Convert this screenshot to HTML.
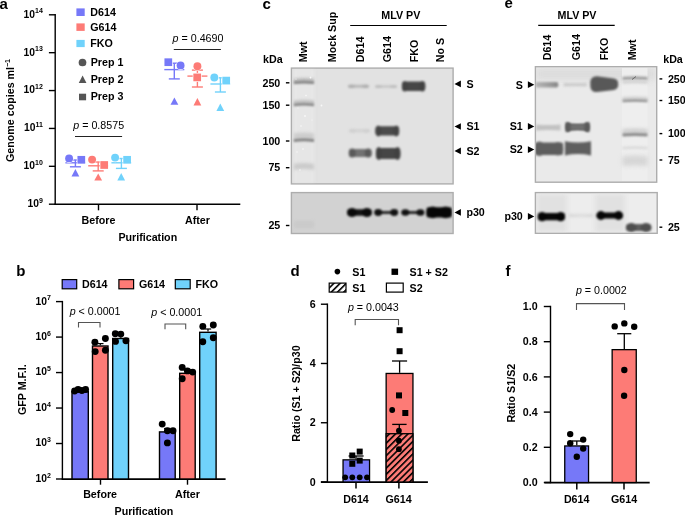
<!DOCTYPE html>
<html><head><meta charset="utf-8"><style>
html,body{margin:0;padding:0;background:#fff;width:685px;height:516px;overflow:hidden;}
svg{display:block;font-family:"Liberation Sans", sans-serif;will-change:transform;}
</style></head><body>
<svg width="685" height="516" viewBox="0 0 685 516">
<defs>
<filter id="g2" x="-30%" y="-150%" width="160%" height="400%" color-interpolation-filters="sRGB"><feGaussianBlur stdDeviation="0.2"/></filter>
<filter id="g3" x="-30%" y="-150%" width="160%" height="400%" color-interpolation-filters="sRGB"><feGaussianBlur stdDeviation="0.3"/></filter>
<filter id="g4" x="-30%" y="-150%" width="160%" height="400%" color-interpolation-filters="sRGB"><feGaussianBlur stdDeviation="0.4"/></filter>
<filter id="g5" x="-30%" y="-150%" width="160%" height="400%" color-interpolation-filters="sRGB"><feGaussianBlur stdDeviation="0.5"/></filter>
<filter id="g6" x="-30%" y="-150%" width="160%" height="400%" color-interpolation-filters="sRGB"><feGaussianBlur stdDeviation="0.6"/></filter>
<filter id="g7" x="-30%" y="-150%" width="160%" height="400%" color-interpolation-filters="sRGB"><feGaussianBlur stdDeviation="0.7"/></filter>
<filter id="g8" x="-30%" y="-150%" width="160%" height="400%" color-interpolation-filters="sRGB"><feGaussianBlur stdDeviation="0.8"/></filter>
<filter id="g9" x="-30%" y="-150%" width="160%" height="400%" color-interpolation-filters="sRGB"><feGaussianBlur stdDeviation="0.9"/></filter>
<filter id="g10" x="-30%" y="-150%" width="160%" height="400%" color-interpolation-filters="sRGB"><feGaussianBlur stdDeviation="1.0"/></filter>
<filter id="g11" x="-30%" y="-150%" width="160%" height="400%" color-interpolation-filters="sRGB"><feGaussianBlur stdDeviation="1.1"/></filter>
<filter id="g12" x="-30%" y="-150%" width="160%" height="400%" color-interpolation-filters="sRGB"><feGaussianBlur stdDeviation="1.2"/></filter>
<filter id="g13" x="-30%" y="-150%" width="160%" height="400%" color-interpolation-filters="sRGB"><feGaussianBlur stdDeviation="1.3"/></filter>
<filter id="g14" x="-30%" y="-150%" width="160%" height="400%" color-interpolation-filters="sRGB"><feGaussianBlur stdDeviation="1.4"/></filter>
<filter id="g15" x="-30%" y="-150%" width="160%" height="400%" color-interpolation-filters="sRGB"><feGaussianBlur stdDeviation="1.5"/></filter>
<filter id="g16" x="-30%" y="-150%" width="160%" height="400%" color-interpolation-filters="sRGB"><feGaussianBlur stdDeviation="1.6"/></filter>
<filter id="g17" x="-30%" y="-150%" width="160%" height="400%" color-interpolation-filters="sRGB"><feGaussianBlur stdDeviation="1.7"/></filter>
<filter id="g18" x="-30%" y="-150%" width="160%" height="400%" color-interpolation-filters="sRGB"><feGaussianBlur stdDeviation="1.8"/></filter>
<filter id="g19" x="-30%" y="-150%" width="160%" height="400%" color-interpolation-filters="sRGB"><feGaussianBlur stdDeviation="1.9"/></filter>
<filter id="g20" x="-30%" y="-150%" width="160%" height="400%" color-interpolation-filters="sRGB"><feGaussianBlur stdDeviation="2.0"/></filter>
<filter id="g21" x="-30%" y="-150%" width="160%" height="400%" color-interpolation-filters="sRGB"><feGaussianBlur stdDeviation="2.1"/></filter>
<filter id="g22" x="-30%" y="-150%" width="160%" height="400%" color-interpolation-filters="sRGB"><feGaussianBlur stdDeviation="2.2"/></filter>
<filter id="g23" x="-30%" y="-150%" width="160%" height="400%" color-interpolation-filters="sRGB"><feGaussianBlur stdDeviation="2.3"/></filter>
<filter id="g24" x="-30%" y="-150%" width="160%" height="400%" color-interpolation-filters="sRGB"><feGaussianBlur stdDeviation="2.4"/></filter>
<filter id="g25" x="-30%" y="-150%" width="160%" height="400%" color-interpolation-filters="sRGB"><feGaussianBlur stdDeviation="2.5"/></filter>
<filter id="g26" x="-30%" y="-150%" width="160%" height="400%" color-interpolation-filters="sRGB"><feGaussianBlur stdDeviation="2.6"/></filter>
<filter id="g27" x="-30%" y="-150%" width="160%" height="400%" color-interpolation-filters="sRGB"><feGaussianBlur stdDeviation="2.7"/></filter>
<filter id="g28" x="-30%" y="-150%" width="160%" height="400%" color-interpolation-filters="sRGB"><feGaussianBlur stdDeviation="2.8"/></filter>
<filter id="g29" x="-30%" y="-150%" width="160%" height="400%" color-interpolation-filters="sRGB"><feGaussianBlur stdDeviation="2.9"/></filter>
<filter id="g30" x="-30%" y="-150%" width="160%" height="400%" color-interpolation-filters="sRGB"><feGaussianBlur stdDeviation="3.0"/></filter>
<filter id="g31" x="-30%" y="-150%" width="160%" height="400%" color-interpolation-filters="sRGB"><feGaussianBlur stdDeviation="3.1"/></filter>
<filter id="g32" x="-30%" y="-150%" width="160%" height="400%" color-interpolation-filters="sRGB"><feGaussianBlur stdDeviation="3.2"/></filter>
<filter id="g33" x="-30%" y="-150%" width="160%" height="400%" color-interpolation-filters="sRGB"><feGaussianBlur stdDeviation="3.3"/></filter>
<filter id="g34" x="-30%" y="-150%" width="160%" height="400%" color-interpolation-filters="sRGB"><feGaussianBlur stdDeviation="3.4"/></filter>
<filter id="g35" x="-30%" y="-150%" width="160%" height="400%" color-interpolation-filters="sRGB"><feGaussianBlur stdDeviation="3.5"/></filter>
<filter id="g36" x="-30%" y="-150%" width="160%" height="400%" color-interpolation-filters="sRGB"><feGaussianBlur stdDeviation="3.6"/></filter>
<filter id="g37" x="-30%" y="-150%" width="160%" height="400%" color-interpolation-filters="sRGB"><feGaussianBlur stdDeviation="3.7"/></filter>
<filter id="g38" x="-30%" y="-150%" width="160%" height="400%" color-interpolation-filters="sRGB"><feGaussianBlur stdDeviation="3.8"/></filter>
<filter id="g39" x="-30%" y="-150%" width="160%" height="400%" color-interpolation-filters="sRGB"><feGaussianBlur stdDeviation="3.9"/></filter>
<filter id="g40" x="-30%" y="-150%" width="160%" height="400%" color-interpolation-filters="sRGB"><feGaussianBlur stdDeviation="4.0"/></filter>
<linearGradient id="gradS" x1="0" x2="1" y1="0" y2="0"><stop offset="0" stop-color="#b8b8b8"/><stop offset="0.6" stop-color="#9c9c9c"/><stop offset="1" stop-color="#858585"/></linearGradient>
<clipPath id="clipc1"><rect x="292.1" y="68.8" width="160.2" height="114.4"/></clipPath>
<clipPath id="clipc2"><rect x="292.1" y="193.3" width="160.2" height="39.5"/></clipPath>
<clipPath id="clipe1"><rect x="536.1" y="67.4" width="119.9" height="114.1"/></clipPath>
<clipPath id="clipe2"><rect x="536.1" y="193.3" width="120.4" height="39.3"/></clipPath>
<pattern id="hatchr" patternUnits="userSpaceOnUse" width="4.4" height="4.4" patternTransform="rotate(45) translate(0.48,0)">
<rect width="4.4" height="4.4" fill="#fd7b76"/><rect x="0" y="0" width="1.6" height="4.4" fill="#000"/></pattern>
<pattern id="hatchw" patternUnits="userSpaceOnUse" width="4.4" height="4.4" patternTransform="rotate(45)">
<rect width="4.4" height="4.4" fill="#fff"/><rect x="0" y="0" width="1.6" height="4.4" fill="#000"/></pattern>
</defs>
<text x="-0.5" y="8.8" font-size="15" font-weight="bold" text-anchor="start" >a</text>
<line x1="55.2" y1="14.099999999999984" x2="55.2" y2="204.9" stroke="#000" stroke-width="1.4"/>
<line x1="54.5" y1="204.2" x2="240.3" y2="204.2" stroke="#000" stroke-width="1.4"/>
<line x1="48.9" y1="204.2" x2="55.2" y2="204.2" stroke="#000" stroke-width="1.4"/>
<text x="42.8" y="207.10" font-size="10.3" font-weight="bold" text-anchor="end">10<tspan font-size="7" dy="-4.3">9</tspan></text>
<line x1="48.9" y1="166.32" x2="55.2" y2="166.32" stroke="#000" stroke-width="1.4"/>
<text x="42.8" y="169.22" font-size="10.3" font-weight="bold" text-anchor="end">10<tspan font-size="7" dy="-4.3">10</tspan></text>
<line x1="48.9" y1="128.44" x2="55.2" y2="128.44" stroke="#000" stroke-width="1.4"/>
<text x="42.8" y="131.34" font-size="10.3" font-weight="bold" text-anchor="end">10<tspan font-size="7" dy="-4.3">11</tspan></text>
<line x1="48.9" y1="90.55999999999997" x2="55.2" y2="90.55999999999997" stroke="#000" stroke-width="1.4"/>
<text x="42.8" y="93.46" font-size="10.3" font-weight="bold" text-anchor="end">10<tspan font-size="7" dy="-4.3">12</tspan></text>
<line x1="48.9" y1="52.67999999999998" x2="55.2" y2="52.67999999999998" stroke="#000" stroke-width="1.4"/>
<text x="42.8" y="55.58" font-size="10.3" font-weight="bold" text-anchor="end">10<tspan font-size="7" dy="-4.3">13</tspan></text>
<line x1="48.9" y1="14.799999999999983" x2="55.2" y2="14.799999999999983" stroke="#000" stroke-width="1.4"/>
<text x="42.8" y="17.70" font-size="10.3" font-weight="bold" text-anchor="end">10<tspan font-size="7" dy="-4.3">14</tspan></text>
<rect x="76.40" y="8.40" width="8.30" height="7.60" fill="#7678f8"/>
<rect x="76.40" y="23.40" width="8.30" height="7.50" fill="#fd7b76"/>
<rect x="76.40" y="39.90" width="8.30" height="7.20" fill="#70d2fb"/>
<text x="90.3" y="15.8" font-size="10.7" font-weight="bold" text-anchor="start" >D614</text>
<text x="90.3" y="30.7" font-size="10.7" font-weight="bold" text-anchor="start" >G614</text>
<text x="90.3" y="46.7" font-size="10.7" font-weight="bold" text-anchor="start" >FKO</text>
<circle cx="82.5" cy="62.5" r="3.85" fill="#555555"/>
<polygon points="78.75,82.9 86.45,82.9 82.6,75.5" fill="#555555"/>
<rect x="79.00" y="93.70" width="7.10" height="6.60" fill="#555555"/>
<text x="90.7" y="65.8" font-size="10.7" font-weight="bold" text-anchor="start" >Prep 1</text>
<text x="90.7" y="82.9" font-size="10.7" font-weight="bold" text-anchor="start" >Prep 2</text>
<text x="90.7" y="100.0" font-size="10.7" font-weight="bold" text-anchor="start" >Prep 3</text>
<text x="73.3" y="128.6" font-size="10.7"><tspan font-style="italic">p</tspan> = 0.8575</text>
<line x1="75" y1="136.5" x2="122.1" y2="136.5" stroke="#222" stroke-width="1.0"/>
<text x="172.6" y="41.7" font-size="10.7"><tspan font-style="italic">p</tspan> = 0.4690</text>
<line x1="173.8" y1="49.5" x2="220.9" y2="49.5" stroke="#222" stroke-width="1.0"/>
<line x1="75.4" y1="160.0" x2="75.4" y2="166.8" stroke="#7678f8" stroke-width="1.4"/>
<line x1="65.4" y1="162.8" x2="85.4" y2="162.8" stroke="#7678f8" stroke-width="1.4"/>
<line x1="69.9" y1="166.8" x2="80.9" y2="166.8" stroke="#7678f8" stroke-width="1.4"/>
<line x1="69.9" y1="160.0" x2="80.9" y2="160.0" stroke="#7678f8" stroke-width="1.4"/>
<circle cx="69.1" cy="158.4" r="3.95" fill="#7678f8" stroke="#fff" stroke-width="1.3" paint-order="stroke"/>
<rect x="77.45" y="155.95" width="7.7" height="7.7" fill="#7678f8" stroke="#fff" stroke-width="1.3" paint-order="stroke"/>
<polygon points="71.50,176.5 79.30,176.5 75.4,169.0" fill="#7678f8" stroke="#fff" stroke-width="1.3" paint-order="stroke"/>
<line x1="98.2" y1="162.0" x2="98.2" y2="170.9" stroke="#fd7b76" stroke-width="1.4"/>
<line x1="88.2" y1="165.8" x2="108.2" y2="165.8" stroke="#fd7b76" stroke-width="1.4"/>
<line x1="92.7" y1="170.9" x2="103.7" y2="170.9" stroke="#fd7b76" stroke-width="1.4"/>
<line x1="92.7" y1="162.0" x2="103.7" y2="162.0" stroke="#fd7b76" stroke-width="1.4"/>
<circle cx="92.1" cy="159.6" r="3.95" fill="#fd7b76" stroke="#fff" stroke-width="1.3" paint-order="stroke"/>
<rect x="100.35" y="161.15" width="7.7" height="7.7" fill="#fd7b76" stroke="#fff" stroke-width="1.3" paint-order="stroke"/>
<polygon points="94.30,180.6 102.10,180.6 98.2,173.6" fill="#fd7b76" stroke="#fff" stroke-width="1.3" paint-order="stroke"/>
<line x1="121.4" y1="158.5" x2="121.4" y2="168.4" stroke="#70d2fb" stroke-width="1.4"/>
<line x1="111.4" y1="162.8" x2="131.4" y2="162.8" stroke="#70d2fb" stroke-width="1.4"/>
<line x1="115.9" y1="168.4" x2="126.9" y2="168.4" stroke="#70d2fb" stroke-width="1.4"/>
<line x1="115.9" y1="158.5" x2="126.9" y2="158.5" stroke="#70d2fb" stroke-width="1.4"/>
<circle cx="115.1" cy="157.6" r="3.95" fill="#70d2fb" stroke="#fff" stroke-width="1.3" paint-order="stroke"/>
<rect x="123.25" y="155.95" width="7.7" height="7.7" fill="#70d2fb" stroke="#fff" stroke-width="1.3" paint-order="stroke"/>
<polygon points="117.30,180.6 125.10,180.6 121.2,173.0" fill="#70d2fb" stroke="#fff" stroke-width="1.3" paint-order="stroke"/>
<line x1="174.3" y1="63.2" x2="174.3" y2="78.9" stroke="#7678f8" stroke-width="1.4"/>
<line x1="164.3" y1="69.6" x2="184.3" y2="69.6" stroke="#7678f8" stroke-width="1.4"/>
<line x1="168.8" y1="78.9" x2="179.8" y2="78.9" stroke="#7678f8" stroke-width="1.4"/>
<line x1="168.8" y1="63.2" x2="179.8" y2="63.2" stroke="#7678f8" stroke-width="1.4"/>
<circle cx="180.6" cy="65.4" r="3.95" fill="#7678f8" stroke="#fff" stroke-width="1.3" paint-order="stroke"/>
<rect x="164.45" y="58.35" width="7.7" height="7.7" fill="#7678f8" stroke="#fff" stroke-width="1.3" paint-order="stroke"/>
<polygon points="170.50,104.8 178.30,104.8 174.4,97.4" fill="#7678f8" stroke="#fff" stroke-width="1.3" paint-order="stroke"/>
<line x1="197.4" y1="70.1" x2="197.4" y2="87.0" stroke="#fd7b76" stroke-width="1.4"/>
<line x1="187.4" y1="76.1" x2="207.4" y2="76.1" stroke="#fd7b76" stroke-width="1.4"/>
<line x1="191.9" y1="87.0" x2="202.9" y2="87.0" stroke="#fd7b76" stroke-width="1.4"/>
<line x1="191.9" y1="70.1" x2="202.9" y2="70.1" stroke="#fd7b76" stroke-width="1.4"/>
<circle cx="197.4" cy="66.2" r="3.95" fill="#fd7b76" stroke="#fff" stroke-width="1.3" paint-order="stroke"/>
<rect x="193.35" y="73.55" width="7.7" height="7.7" fill="#fd7b76" stroke="#fff" stroke-width="1.3" paint-order="stroke"/>
<polygon points="193.50,105.4 201.30,105.4 197.4,98.0" fill="#fd7b76" stroke="#fff" stroke-width="1.3" paint-order="stroke"/>
<line x1="220.4" y1="77.8" x2="220.4" y2="92.0" stroke="#70d2fb" stroke-width="1.4"/>
<line x1="210.4" y1="84.0" x2="230.4" y2="84.0" stroke="#70d2fb" stroke-width="1.4"/>
<line x1="214.9" y1="92.0" x2="225.9" y2="92.0" stroke="#70d2fb" stroke-width="1.4"/>
<line x1="214.9" y1="77.8" x2="225.9" y2="77.8" stroke="#70d2fb" stroke-width="1.4"/>
<circle cx="214.3" cy="77.5" r="3.95" fill="#70d2fb" stroke="#fff" stroke-width="1.3" paint-order="stroke"/>
<rect x="222.35" y="76.75" width="7.7" height="7.7" fill="#70d2fb" stroke="#fff" stroke-width="1.3" paint-order="stroke"/>
<polygon points="216.40,111.0 224.20,111.0 220.3,103.6" fill="#70d2fb" stroke="#fff" stroke-width="1.3" paint-order="stroke"/>
<line x1="98.5" y1="204.2" x2="98.5" y2="210.3" stroke="#000" stroke-width="1.4"/>
<line x1="197.0" y1="204.2" x2="197.0" y2="210.3" stroke="#000" stroke-width="1.4"/>
<text x="98.5" y="224.1" font-size="10.7" font-weight="bold" text-anchor="middle" >Before</text>
<text x="197.4" y="224.1" font-size="10.7" font-weight="bold" text-anchor="middle" >After</text>
<text x="147.8" y="240.8" font-size="10.7" font-weight="bold" text-anchor="middle" >Purification</text>
<text x="0" y="0" font-size="10.7" font-weight="bold" transform="translate(14.2,162.0) rotate(-90)">Genome copies ml<tspan font-size="7" dy="-4.3">−1</tspan></text>
<text x="16.2" y="275.9" font-size="15" font-weight="bold" text-anchor="start" >b</text>
<rect x="62.20" y="279.60" width="14.50" height="9.20" fill="#7678f8" stroke="#000" stroke-width="1.2"/>
<text x="82.0" y="287.7" font-size="10.7" font-weight="bold" text-anchor="start" >D614</text>
<rect x="118.90" y="279.60" width="14.70" height="9.20" fill="#fd7b76" stroke="#000" stroke-width="1.2"/>
<text x="138.9" y="287.7" font-size="10.7" font-weight="bold" text-anchor="start" >G614</text>
<rect x="175.30" y="279.60" width="14.90" height="9.20" fill="#70d2fb" stroke="#000" stroke-width="1.2"/>
<text x="195.5" y="287.7" font-size="10.7" font-weight="bold" text-anchor="start" >FKO</text>
<line x1="62.4" y1="300.90000000000003" x2="62.4" y2="479.7" stroke="#000" stroke-width="1.4"/>
<line x1="61.699999999999996" y1="479.1" x2="225.6" y2="479.1" stroke="#000" stroke-width="1.6"/>
<line x1="56.0" y1="479.0" x2="62.4" y2="479.0" stroke="#000" stroke-width="1.4"/>
<text x="50.8" y="481.90" font-size="10.3" font-weight="bold" text-anchor="end">10<tspan font-size="7" dy="-4.3">2</tspan></text>
<line x1="56.0" y1="443.52" x2="62.4" y2="443.52" stroke="#000" stroke-width="1.4"/>
<text x="50.8" y="446.42" font-size="10.3" font-weight="bold" text-anchor="end">10<tspan font-size="7" dy="-4.3">3</tspan></text>
<line x1="56.0" y1="408.04" x2="62.4" y2="408.04" stroke="#000" stroke-width="1.4"/>
<text x="50.8" y="410.94" font-size="10.3" font-weight="bold" text-anchor="end">10<tspan font-size="7" dy="-4.3">4</tspan></text>
<line x1="56.0" y1="372.56" x2="62.4" y2="372.56" stroke="#000" stroke-width="1.4"/>
<text x="50.8" y="375.46" font-size="10.3" font-weight="bold" text-anchor="end">10<tspan font-size="7" dy="-4.3">5</tspan></text>
<line x1="56.0" y1="337.08000000000004" x2="62.4" y2="337.08000000000004" stroke="#000" stroke-width="1.4"/>
<text x="50.8" y="339.98" font-size="10.3" font-weight="bold" text-anchor="end">10<tspan font-size="7" dy="-4.3">6</tspan></text>
<line x1="56.0" y1="301.6" x2="62.4" y2="301.6" stroke="#000" stroke-width="1.4"/>
<text x="50.8" y="304.50" font-size="10.3" font-weight="bold" text-anchor="end">10<tspan font-size="7" dy="-4.3">7</tspan></text>
<rect x="72.00" y="391.70" width="16.30" height="87.30" fill="#7678f8" stroke="#000" stroke-width="1.4"/>
<rect x="92.50" y="346.00" width="15.50" height="133.00" fill="#fd7b76" stroke="#000" stroke-width="1.4"/>
<rect x="112.70" y="338.50" width="15.80" height="140.50" fill="#70d2fb" stroke="#000" stroke-width="1.4"/>
<rect x="159.50" y="431.90" width="15.70" height="47.10" fill="#7678f8" stroke="#000" stroke-width="1.4"/>
<rect x="179.70" y="373.30" width="15.50" height="105.70" fill="#fd7b76" stroke="#000" stroke-width="1.4"/>
<rect x="199.70" y="332.30" width="16.40" height="146.70" fill="#70d2fb" stroke="#000" stroke-width="1.4"/>
<line x1="80.1" y1="388.5" x2="80.1" y2="391.0" stroke="#000" stroke-width="1.2"/>
<line x1="76.89999999999999" y1="388.5" x2="83.3" y2="388.5" stroke="#000" stroke-width="1.2"/>
<line x1="100.3" y1="343.6" x2="100.3" y2="345.3" stroke="#000" stroke-width="1.2"/>
<line x1="97.1" y1="343.6" x2="103.5" y2="343.6" stroke="#000" stroke-width="1.2"/>
<line x1="120.8" y1="335.2" x2="120.8" y2="337.8" stroke="#000" stroke-width="1.2"/>
<line x1="117.6" y1="335.2" x2="124.0" y2="335.2" stroke="#000" stroke-width="1.2"/>
<line x1="167.3" y1="428.5" x2="167.3" y2="431.2" stroke="#000" stroke-width="1.2"/>
<line x1="164.10000000000002" y1="428.5" x2="170.5" y2="428.5" stroke="#000" stroke-width="1.2"/>
<line x1="187.5" y1="369.5" x2="187.5" y2="372.6" stroke="#000" stroke-width="1.2"/>
<line x1="184.3" y1="369.5" x2="190.7" y2="369.5" stroke="#000" stroke-width="1.2"/>
<line x1="208.0" y1="329.0" x2="208.0" y2="331.6" stroke="#000" stroke-width="1.2"/>
<line x1="204.8" y1="329.0" x2="211.2" y2="329.0" stroke="#000" stroke-width="1.2"/>
<circle cx="74.6" cy="391" r="3.45" fill="#000"/>
<circle cx="78.1" cy="389.5" r="3.45" fill="#000"/>
<circle cx="81.9" cy="390.5" r="3.45" fill="#000"/>
<circle cx="85.6" cy="389.5" r="3.45" fill="#000"/>
<circle cx="94.9" cy="342.2" r="3.45" fill="#000"/>
<circle cx="105.4" cy="338.5" r="3.45" fill="#000"/>
<circle cx="95.2" cy="351.6" r="3.45" fill="#000"/>
<circle cx="105.4" cy="350.2" r="3.45" fill="#000"/>
<circle cx="115.3" cy="333.8" r="3.45" fill="#000"/>
<circle cx="120.8" cy="334.1" r="3.45" fill="#000"/>
<circle cx="115.5" cy="341.4" r="3.45" fill="#000"/>
<circle cx="125.9" cy="340.7" r="3.45" fill="#000"/>
<circle cx="162.2" cy="424.1" r="3.45" fill="#000"/>
<circle cx="167.4" cy="430.8" r="3.45" fill="#000"/>
<circle cx="173" cy="430.8" r="3.45" fill="#000"/>
<circle cx="167.4" cy="442.9" r="3.45" fill="#000"/>
<circle cx="182.2" cy="367.4" r="3.45" fill="#000"/>
<circle cx="187.4" cy="370.9" r="3.45" fill="#000"/>
<circle cx="192.7" cy="372.1" r="3.45" fill="#000"/>
<circle cx="182.2" cy="378.7" r="3.45" fill="#000"/>
<circle cx="202.8" cy="326.4" r="3.45" fill="#000"/>
<circle cx="213.3" cy="325" r="3.45" fill="#000"/>
<circle cx="202.8" cy="341.7" r="3.45" fill="#000"/>
<circle cx="213.3" cy="337.7" r="3.45" fill="#000"/>
<line x1="100.5" y1="479.0" x2="100.5" y2="484.7" stroke="#000" stroke-width="1.4"/>
<line x1="187.5" y1="479.0" x2="187.5" y2="484.7" stroke="#000" stroke-width="1.4"/>
<text x="100.1" y="497.7" font-size="10.7" font-weight="bold" text-anchor="middle" >Before</text>
<text x="187.5" y="497.7" font-size="10.7" font-weight="bold" text-anchor="middle" >After</text>
<text x="143.9" y="515.3" font-size="10.7" font-weight="bold" text-anchor="middle" >Purification</text>
<text x="69.7" y="314.9" font-size="10.7"><tspan font-style="italic">p</tspan> &lt; 0.0001</text>
<text x="151.3" y="315.9" font-size="10.7"><tspan font-style="italic">p</tspan> &lt; 0.0001</text>
<path d="M78.5,327.5 V322.5 H100.0 V327.5" fill="none" stroke="#555" stroke-width="1.1"/>
<path d="M165.0,329.3 V324.0 H185.7 V329.3" fill="none" stroke="#555" stroke-width="1.1"/>
<text x="0" y="0" font-size="10.7" font-weight="bold" transform="translate(26.0,415.1) rotate(-90)">GFP M.F.I.</text>
<text x="262.6" y="8.8" font-size="15" font-weight="bold" text-anchor="start" >c</text>
<text x="263.1" y="62.7" font-size="10.7" font-weight="bold" text-anchor="start" >kDa</text>
<text x="0" y="0" font-size="10.7" font-weight="bold" transform="translate(307.2,62.2) rotate(-90)">Mwt</text>
<text x="0" y="0" font-size="10.7" font-weight="bold" transform="translate(335.9,62.2) rotate(-90)">Mock Sup</text>
<text x="0" y="0" font-size="10.7" font-weight="bold" transform="translate(364.0,62.2) rotate(-90)">D614</text>
<text x="0" y="0" font-size="10.7" font-weight="bold" transform="translate(390.8,62.2) rotate(-90)">G614</text>
<text x="0" y="0" font-size="10.7" font-weight="bold" transform="translate(418.0,62.2) rotate(-90)">FKO</text>
<text x="0" y="0" font-size="10.7" font-weight="bold" transform="translate(443.9,62.2) rotate(-90)">No S</text>
<text x="400.8" y="19.0" font-size="10.7" font-weight="bold" text-anchor="middle" >MLV PV</text>
<line x1="350.2" y1="25.5" x2="446.7" y2="25.5" stroke="#000" stroke-width="1.2"/>
<rect x="291.4" y="68.1" width="161.7" height="115.8" fill="#e2e2e2" stroke="#adadad" stroke-width="1.4"/>
<rect x="291.4" y="192.6" width="161.7" height="40.9" fill="#d2d2d2" stroke="#adadad" stroke-width="1.4"/>
<g clip-path="url(#clipc1)">
<rect x="293.5" y="69" width="21" height="114" fill="#e6e6e6" filter="url(#g15)"/>
<path d="M293.8,78.30 Q303.90,76.90 314.0,78.30 L314.0,82.30 Q303.90,80.90 293.8,82.30 Z" fill="#c6c6c6" opacity="1.0" filter="url(#g13)"/>
<path d="M293.8,81.30 Q303.90,79.90 314.0,81.30 L314.0,84.10 Q303.90,82.70 293.8,84.10 Z" fill="#858585" opacity="1.0" filter="url(#g8)"/>
<path d="M293.8,100.30 Q303.90,98.90 314.0,100.30 L314.0,104.30 Q303.90,102.90 293.8,104.30 Z" fill="#c8c8c8" opacity="1.0" filter="url(#g13)"/>
<path d="M293.8,103.50 Q303.90,102.10 314.0,103.50 L314.0,106.30 Q303.90,104.90 293.8,106.30 Z" fill="#888888" opacity="1.0" filter="url(#g8)"/>
<path d="M293.8,133.20 Q303.90,131.80 314.0,133.20 L314.0,139.20 Q303.90,137.80 293.8,139.20 Z" fill="#cdcdcd" opacity="1.0" filter="url(#g16)"/>
<path d="M293.8,139.00 Q303.90,137.60 314.0,139.00 L314.0,142.00 Q303.90,140.60 293.8,142.00 Z" fill="#848484" opacity="1.0" filter="url(#g8)"/>
<path d="M293.8,163.70 Q303.90,162.30 314.0,163.70 L314.0,169.70 Q303.90,168.30 293.8,169.70 Z" fill="#cbcbcb" opacity="1.0" filter="url(#g16)"/>
<circle cx="310.5" cy="77.5" r="0.9" fill="#f8f8f8" filter="url(#g4)"/>
<circle cx="306" cy="95.5" r="0.8" fill="#f8f8f8" filter="url(#g4)"/>
<circle cx="305" cy="116" r="0.9" fill="#f8f8f8" filter="url(#g4)"/>
<circle cx="301" cy="126" r="0.8" fill="#f8f8f8" filter="url(#g4)"/>
<circle cx="303" cy="149" r="0.8" fill="#f8f8f8" filter="url(#g4)"/>
<circle cx="297" cy="152" r="0.7" fill="#f8f8f8" filter="url(#g4)"/>
<circle cx="300" cy="170" r="0.7" fill="#f8f8f8" filter="url(#g4)"/>
<circle cx="321.5" cy="105.5" r="0.9" fill="#f8f8f8" filter="url(#g4)"/>
<circle cx="296" cy="79" r="0.6" fill="#f8f8f8" filter="url(#g4)"/>
<circle cx="312" cy="120" r="0.6" fill="#f8f8f8" filter="url(#g4)"/>
<circle cx="298" cy="108" r="0.6" fill="#f8f8f8" filter="url(#g4)"/>
<g filter="url(#g9)">
<rect x="348.30" y="84.80" width="20.40" height="3.0" rx="1.5" fill="#bababa"/>
<ellipse cx="351.50" cy="86.3" rx="3.50" ry="1.90" fill="#b0b0b0"/>
<ellipse cx="365.50" cy="86.3" rx="3.50" ry="1.90" fill="#b0b0b0"/>
</g>
<g filter="url(#g12)">
<rect x="349.30" y="129.05" width="20.40" height="3.5" rx="1.75" fill="#d4d4d4"/>
<ellipse cx="352.50" cy="130.8" rx="3.50" ry="2.00" fill="#d0d0d0"/>
<ellipse cx="366.50" cy="130.8" rx="3.50" ry="2.00" fill="#d0d0d0"/>
</g>
<g filter="url(#g10)">
<rect x="349.00" y="149.10" width="22.40" height="7.8" rx="2.0" fill="#727272"/>
<ellipse cx="352.20" cy="153.0" rx="3.50" ry="4.60" fill="#5a5a5a"/>
<ellipse cx="368.20" cy="153.0" rx="3.50" ry="4.60" fill="#5a5a5a"/>
</g>
<g filter="url(#g9)">
<rect x="375.30" y="85.20" width="21.40" height="2.6" rx="1.3" fill="#c6c6c6"/>
<ellipse cx="378.50" cy="86.5" rx="3.50" ry="1.60" fill="#bebebe"/>
<ellipse cx="393.50" cy="86.5" rx="3.50" ry="1.60" fill="#bebebe"/>
</g>
<g filter="url(#g9)">
<rect x="375.60" y="126.30" width="23.40" height="9.2" rx="2.0" fill="#4b4b4b"/>
<ellipse cx="378.30" cy="130.9" rx="3.00" ry="5.50" fill="#454545"/>
<ellipse cx="396.30" cy="130.9" rx="3.00" ry="5.50" fill="#454545"/>
</g>
<g filter="url(#g9)">
<rect x="376.10" y="148.10" width="24.10" height="10.8" rx="2.0" fill="#454545"/>
<ellipse cx="378.80" cy="153.5" rx="3.00" ry="6.40" fill="#404040"/>
<ellipse cx="397.50" cy="153.5" rx="3.00" ry="6.40" fill="#404040"/>
</g>
<g filter="url(#g9)">
<rect x="402.10" y="81.50" width="23.00" height="9.4" rx="2.0" fill="#464646"/>
<ellipse cx="404.80" cy="86.2" rx="3.00" ry="5.20" fill="#424242"/>
<ellipse cx="422.40" cy="86.2" rx="3.00" ry="5.20" fill="#424242"/>
</g>
</g>
<g clip-path="url(#clipc2)">
<g filter="url(#g8)">
<rect x="347.30" y="209.30" width="24.30" height="6.4" rx="2.0" fill="#141414"/>
<ellipse cx="352.00" cy="212.5" rx="5.00" ry="4.60" fill="#0a0a0a"/>
<ellipse cx="366.90" cy="212.5" rx="5.00" ry="4.60" fill="#0a0a0a"/>
</g>
<g filter="url(#g8)">
<rect x="374.50" y="211.10" width="23.40" height="2.8" rx="1.4" fill="#2a2a2a"/>
<ellipse cx="378.20" cy="212.5" rx="4.00" ry="3.40" fill="#101010"/>
<ellipse cx="394.20" cy="212.5" rx="4.00" ry="3.40" fill="#101010"/>
</g>
<g filter="url(#g8)">
<rect x="401.60" y="211.10" width="22.50" height="2.8" rx="1.4" fill="#2a2a2a"/>
<ellipse cx="405.30" cy="212.5" rx="4.00" ry="3.30" fill="#101010"/>
<ellipse cx="420.40" cy="212.5" rx="4.00" ry="3.30" fill="#101010"/>
</g>
<g filter="url(#g8)">
<rect x="426.50" y="207.30" width="25.30" height="10.2" rx="2.0" fill="#0a0a0a"/>
<ellipse cx="432.70" cy="212.4" rx="6.50" ry="5.90" fill="#060606"/>
<ellipse cx="445.60" cy="212.4" rx="6.50" ry="5.90" fill="#060606"/>
</g>
<rect x="294" y="221" width="20" height="7" fill="#cacaca" filter="url(#g15)"/>
</g>
<line x1="285.9" y1="82.8" x2="289.4" y2="82.8" stroke="#000" stroke-width="1.4"/>
<text x="280.3" y="86.5" font-size="10.7" font-weight="bold" text-anchor="end" >250</text>
<line x1="285.9" y1="105.2" x2="289.4" y2="105.2" stroke="#000" stroke-width="1.4"/>
<text x="280.3" y="108.9" font-size="10.7" font-weight="bold" text-anchor="end" >150</text>
<line x1="285.9" y1="141.0" x2="289.4" y2="141.0" stroke="#000" stroke-width="1.4"/>
<text x="280.3" y="144.7" font-size="10.7" font-weight="bold" text-anchor="end" >100</text>
<line x1="285.9" y1="167.7" x2="289.4" y2="167.7" stroke="#000" stroke-width="1.4"/>
<text x="280.3" y="171.39999999999998" font-size="10.7" font-weight="bold" text-anchor="end" >75</text>
<line x1="285.9" y1="225.5" x2="289.4" y2="225.5" stroke="#000" stroke-width="1.4"/>
<text x="280.3" y="229.2" font-size="10.7" font-weight="bold" text-anchor="end" >25</text>
<polygon points="454.5,83.9 460.9,80.60000000000001 460.9,87.2" fill="#000"/>
<text x="466.4" y="87.7" font-size="10.7" font-weight="bold" text-anchor="start" >S</text>
<polygon points="454.5,126.5 460.9,123.2 460.9,129.8" fill="#000"/>
<text x="466.4" y="130.3" font-size="10.7" font-weight="bold" text-anchor="start" >S1</text>
<polygon points="454.5,150.9 460.9,147.6 460.9,154.20000000000002" fill="#000"/>
<text x="466.4" y="154.70000000000002" font-size="10.7" font-weight="bold" text-anchor="start" >S2</text>
<polygon points="454.5,212.4 460.9,209.1 460.9,215.70000000000002" fill="#000"/>
<text x="466.4" y="216.20000000000002" font-size="10.7" font-weight="bold" text-anchor="start" >p30</text>
<text x="290.5" y="276.0" font-size="15" font-weight="bold" text-anchor="start" >d</text>
<circle cx="337.4" cy="271.6" r="2.8" fill="#000"/>
<text x="352.3" y="275.7" font-size="10.7" font-weight="bold" text-anchor="start" >S1</text>
<rect x="391.50" y="268.60" width="6.60" height="6.30" fill="#000"/>
<text x="409.5" y="275.7" font-size="10.7" font-weight="bold" text-anchor="start" >S1 + S2</text>
<rect x="329.2" y="283.1" width="16.8" height="9.0" fill="url(#hatchw)" stroke="#000" stroke-width="1.2"/>
<text x="352.3" y="291.7" font-size="10.7" font-weight="bold" text-anchor="start" >S1</text>
<rect x="386.4" y="283.1" width="16.8" height="9.0" fill="#fff" stroke="#000" stroke-width="1.2"/>
<text x="409.5" y="291.7" font-size="10.7" font-weight="bold" text-anchor="start" >S2</text>
<line x1="327.4" y1="303.52000000000004" x2="327.4" y2="482.7" stroke="#000" stroke-width="1.4"/>
<line x1="320.9" y1="482.1" x2="427.9" y2="482.1" stroke="#000" stroke-width="1.8"/>
<line x1="320.9" y1="482.0" x2="327.4" y2="482.0" stroke="#000" stroke-width="1.4"/>
<text x="315.8" y="485.7" font-size="10.7" font-weight="bold" text-anchor="end" >0</text>
<line x1="320.9" y1="422.74" x2="327.4" y2="422.74" stroke="#000" stroke-width="1.4"/>
<text x="315.8" y="426.44" font-size="10.7" font-weight="bold" text-anchor="end" >2</text>
<line x1="320.9" y1="363.48" x2="327.4" y2="363.48" stroke="#000" stroke-width="1.4"/>
<text x="315.8" y="367.18" font-size="10.7" font-weight="bold" text-anchor="end" >4</text>
<line x1="320.9" y1="304.22" x2="327.4" y2="304.22" stroke="#000" stroke-width="1.4"/>
<text x="315.8" y="307.92" font-size="10.7" font-weight="bold" text-anchor="end" >6</text>
<rect x="343.05" y="459.85" width="26.50" height="22.15" fill="#7678f8" stroke="#000" stroke-width="1.3"/>
<rect x="386.15" y="373.45" width="26.80" height="108.55" fill="#fd7b76" stroke="#000" stroke-width="1.3"/>
<rect x="386.15" y="433.7" width="26.8" height="48.3" fill="url(#hatchr)" stroke="#000" stroke-width="1.3"/>
<line x1="399.6" y1="361.0" x2="399.6" y2="372.8" stroke="#000" stroke-width="1.3"/>
<line x1="392.0" y1="361.0" x2="407.1" y2="361.0" stroke="#000" stroke-width="1.3"/>
<line x1="399.3" y1="424.4" x2="399.3" y2="433.7" stroke="#000" stroke-width="1.3"/>
<line x1="392.2" y1="424.4" x2="406.6" y2="424.4" stroke="#000" stroke-width="1.3"/>
<line x1="356.0" y1="456.0" x2="356.0" y2="459.2" stroke="#000" stroke-width="1.3"/>
<line x1="348.6" y1="456.0" x2="363.6" y2="456.0" stroke="#000" stroke-width="1.3"/>
<rect x="396.60" y="327.20" width="6.0" height="6.0" fill="#000"/>
<rect x="396.60" y="348.20" width="6.0" height="6.0" fill="#000"/>
<rect x="396.00" y="392.40" width="6.0" height="6.0" fill="#000"/>
<rect x="402.30" y="410.00" width="6.0" height="6.0" fill="#000"/>
<rect x="349.30" y="452.50" width="6.0" height="6.0" fill="#000"/>
<rect x="356.70" y="448.60" width="6.0" height="6.0" fill="#000"/>
<rect x="349.30" y="460.80" width="6.0" height="6.0" fill="#000"/>
<rect x="356.70" y="457.60" width="6.0" height="6.0" fill="#000"/>
<circle cx="392.2" cy="410.0" r="2.9" fill="#000"/>
<circle cx="398.9" cy="430.7" r="2.9" fill="#000"/>
<circle cx="398.9" cy="440.7" r="2.9" fill="#000"/>
<circle cx="398.9" cy="449.2" r="2.9" fill="#000"/>
<circle cx="345.2" cy="477.3" r="2.9" fill="#000"/>
<circle cx="352.3" cy="477.3" r="2.9" fill="#000"/>
<circle cx="359.7" cy="477.3" r="2.9" fill="#000"/>
<circle cx="367.0" cy="477.3" r="2.9" fill="#000"/>
<line x1="356.0" y1="482.0" x2="356.0" y2="488.5" stroke="#000" stroke-width="1.5"/>
<line x1="398.9" y1="482.0" x2="398.9" y2="488.5" stroke="#000" stroke-width="1.5"/>
<text x="356.0" y="503.4" font-size="10.7" font-weight="bold" text-anchor="middle" >D614</text>
<text x="398.6" y="503.4" font-size="10.7" font-weight="bold" text-anchor="middle" >G614</text>
<text x="347.9" y="310.7" font-size="10.7"><tspan font-style="italic">p</tspan> = 0.0043</text>
<path d="M355.2,325.2 V319.5 H398.5 V325.2" fill="none" stroke="#555" stroke-width="1.1"/>
<text x="0" y="0" font-size="10.7" font-weight="bold" transform="translate(299.8,441.8) rotate(-90)">Ratio (S1 + S2)/p30</text>
<text x="504.4" y="8.4" font-size="15" font-weight="bold" text-anchor="start" >e</text>
<text x="577.0" y="18.9" font-size="10.7" font-weight="bold" text-anchor="middle" >MLV PV</text>
<line x1="538.2" y1="25.4" x2="614.7" y2="25.4" stroke="#000" stroke-width="1.2"/>
<text x="0" y="0" font-size="10.7" font-weight="bold" transform="translate(550.6,60.3) rotate(-90)">D614</text>
<text x="0" y="0" font-size="10.7" font-weight="bold" transform="translate(579.6,60.3) rotate(-90)">G614</text>
<text x="0" y="0" font-size="10.7" font-weight="bold" transform="translate(608.0,60.3) rotate(-90)">FKO</text>
<text x="0" y="0" font-size="10.7" font-weight="bold" transform="translate(636.4,60.3) rotate(-90)">Mwt</text>
<text x="663.2" y="62.5" font-size="10.7" font-weight="bold" text-anchor="start" >kDa</text>
<rect x="535.4" y="66.7" width="121.3" height="115.5" fill="#eaeaea" stroke="#adadad" stroke-width="1.4"/>
<rect x="535.4" y="192.6" width="121.8" height="40.7" fill="#ededed" stroke="#adadad" stroke-width="1.4"/>
<g clip-path="url(#clipe1)">

<rect x="536" y="68" width="120" height="12" fill="#dcdcdc" filter="url(#g30)"/>
<rect x="535" y="82.0" width="23.3" height="5.4" rx="2" fill="url(#gradS)" filter="url(#g10)"/>
<path d="M563.7,82.70 Q575.20,83.30 586.7,82.70 L586.7,86.50 Q575.20,85.90 563.7,86.50 Z" fill="#cdcdcd" opacity="1.0" filter="url(#g10)"/>
<path d="M597,76.3 C591,76.3 590.3,80 590.3,84.2 C590.3,88.5 591,92.0 597,92.0 L612,90.2 C617.6,89.6 618.2,87 618.2,84.2 C618.2,81.2 617.6,78.8 612,78.3 Z" fill="#585858" filter="url(#g8)"/>
<rect x="622" y="68" width="25.5" height="113" fill="#eeeeee" filter="url(#g6)"/>
<path d="M622.5,76.80 Q635.00,75.80 647.5,76.80 L647.5,80.20 Q635.00,79.20 622.5,80.20 Z" fill="#a4a4a4" opacity="1.0" filter="url(#g8)"/>
<path d="M622.5,80.80 Q635.00,79.80 647.5,80.80 L647.5,83.80 Q635.00,82.80 622.5,83.80 Z" fill="#d2d2d2" opacity="1.0" filter="url(#g12)"/>
<line x1="632" y1="79.5" x2="636" y2="76.5" stroke="#555" stroke-width="0.8"/>
<path d="M622.5,96.80 Q635.00,95.80 647.5,96.80 L647.5,99.80 Q635.00,98.80 622.5,99.80 Z" fill="#d4d4d4" opacity="1.0" filter="url(#g12)"/>
<path d="M622.5,99.50 Q635.00,98.50 647.5,99.50 L647.5,102.30 Q635.00,101.30 622.5,102.30 Z" fill="#979797" opacity="1.0" filter="url(#g8)"/>
<path d="M622.5,128.80 Q635.00,127.80 647.5,128.80 L647.5,133.80 Q635.00,132.80 622.5,133.80 Z" fill="#d2d2d2" opacity="1.0" filter="url(#g14)"/>
<path d="M622.5,133.30 Q635.00,132.30 647.5,133.30 L647.5,136.50 Q635.00,135.50 622.5,136.50 Z" fill="#8e8e8e" opacity="1.0" filter="url(#g8)"/>
<path d="M622.5,146.75 Q635.00,145.75 647.5,146.75 L647.5,149.25 Q635.00,148.25 622.5,149.25 Z" fill="#dadada" opacity="1.0" filter="url(#g12)"/>
<path d="M622.5,156.00 Q635.00,155.00 647.5,156.00 L647.5,166.00 Q635.00,165.00 622.5,166.00 Z" fill="#d6d6d6" opacity="1.0" filter="url(#g20)"/>
<path d="M536.0,124.40 Q548.25,125.40 560.5,124.40 L560.5,130.40 Q548.25,129.40 536.0,130.40 Z" fill="#c2c2c2" opacity="1.0" filter="url(#g12)"/>
<path d="M565.6,122.20 Q577.55,126.00 589.5,122.20 L589.5,132.00 Q577.55,128.20 565.6,132.00 Z" fill="#5e5e5e" opacity="1.0" filter="url(#g10)"/>
<g filter="url(#g9)">
<rect x="565.90" y="124.60" width="23.30" height="5.0" rx="2.0" fill="#707070"/>
<ellipse cx="568.10" cy="127.1" rx="2.50" ry="4.80" fill="#5a5a5a"/>
<ellipse cx="587.00" cy="127.1" rx="2.50" ry="4.80" fill="#5a5a5a"/>
</g>
<g filter="url(#g11)">
<rect x="534.30" y="142.50" width="28.80" height="12.6" rx="2.0" fill="#5e5e5e"/>
<ellipse cx="539.50" cy="148.8" rx="5.50" ry="7.20" fill="#5e5e5e"/>
<ellipse cx="557.90" cy="148.8" rx="5.50" ry="6.70" fill="#5e5e5e"/>
</g>
<path d="M564.9,141.20 Q577.95,144.00 591.0,141.20 L591.0,155.40 Q577.95,152.60 564.9,155.40 Z" fill="#5f5f5f" opacity="1.0" filter="url(#g10)"/>
</g>
<g clip-path="url(#clipe2)">
<rect x="537" y="194" width="30" height="38" fill="#e1e1e1" filter="url(#g20)"/>
<rect x="595" y="194" width="30" height="38" fill="#e1e1e1" filter="url(#g20)"/>
<g filter="url(#g8)">
<rect x="537.90" y="212.90" width="26.90" height="7.4" rx="2.0" fill="#080808"/>
<ellipse cx="542.10" cy="216.6" rx="4.50" ry="4.70" fill="#050505"/>
<ellipse cx="560.60" cy="216.6" rx="4.50" ry="4.70" fill="#050505"/>
</g>
<path d="M569.0,214.00 Q581.00,215.00 593.0,214.00 L593.0,217.00 Q581.00,216.00 569.0,217.00 Z" fill="#d4d4d4" opacity="1.0" filter="url(#g15)"/>
<g filter="url(#g8)">
<rect x="596.70" y="212.40" width="26.00" height="6.2" rx="2.0" fill="#080808"/>
<ellipse cx="600.90" cy="215.5" rx="4.50" ry="4.40" fill="#050505"/>
<ellipse cx="618.50" cy="215.5" rx="4.50" ry="4.40" fill="#050505"/>
</g>
<g filter="url(#g13)">
<rect x="626.10" y="224.10" width="25.10" height="7.0" rx="2.0" fill="#5e5e5e"/>
<ellipse cx="631.30" cy="227.6" rx="5.50" ry="4.50" fill="#4e4e4e"/>
<ellipse cx="646.00" cy="227.6" rx="5.50" ry="4.50" fill="#4e4e4e"/>
</g>
</g>
<line x1="659.5" y1="78.9" x2="662.3" y2="78.9" stroke="#000" stroke-width="1.4"/>
<text x="667.9" y="82.60000000000001" font-size="10.7" font-weight="bold" text-anchor="start" >250</text>
<line x1="659.5" y1="100.5" x2="662.3" y2="100.5" stroke="#000" stroke-width="1.4"/>
<text x="667.9" y="104.2" font-size="10.7" font-weight="bold" text-anchor="start" >150</text>
<line x1="659.5" y1="133.6" x2="662.3" y2="133.6" stroke="#000" stroke-width="1.4"/>
<text x="667.9" y="137.29999999999998" font-size="10.7" font-weight="bold" text-anchor="start" >100</text>
<line x1="659.5" y1="160.0" x2="662.3" y2="160.0" stroke="#000" stroke-width="1.4"/>
<text x="667.9" y="163.7" font-size="10.7" font-weight="bold" text-anchor="start" >75</text>
<line x1="659.5" y1="227.2" x2="662.3" y2="227.2" stroke="#000" stroke-width="1.4"/>
<text x="667.9" y="230.89999999999998" font-size="10.7" font-weight="bold" text-anchor="start" >25</text>
<polygon points="527.9,81.3 527.9,88.10000000000001 534.3,84.7" fill="#000"/>
<text x="522.8" y="88.5" font-size="10.7" font-weight="bold" text-anchor="end" >S</text>
<polygon points="527.9,123.0 527.9,129.8 534.3,126.4" fill="#000"/>
<text x="522.8" y="130.20000000000002" font-size="10.7" font-weight="bold" text-anchor="end" >S1</text>
<polygon points="527.9,146.2 527.9,153.0 534.3,149.6" fill="#000"/>
<text x="522.8" y="153.4" font-size="10.7" font-weight="bold" text-anchor="end" >S2</text>
<polygon points="527.9,213.0 527.9,219.8 534.3,216.4" fill="#000"/>
<text x="522.8" y="220.20000000000002" font-size="10.7" font-weight="bold" text-anchor="end" >p30</text>
<text x="505.6" y="275.5" font-size="15" font-weight="bold" text-anchor="start" >f</text>
<line x1="550.5" y1="305.8" x2="550.5" y2="483.2" stroke="#000" stroke-width="1.4"/>
<line x1="544.4" y1="482.6" x2="649.7" y2="482.6" stroke="#000" stroke-width="1.8"/>
<line x1="543.8" y1="482.5" x2="550.5" y2="482.5" stroke="#000" stroke-width="1.4"/>
<text x="537.6" y="486.2" font-size="10.7" font-weight="bold" text-anchor="end" >0.0</text>
<line x1="543.8" y1="447.3" x2="550.5" y2="447.3" stroke="#000" stroke-width="1.4"/>
<text x="537.6" y="451.0" font-size="10.7" font-weight="bold" text-anchor="end" >0.2</text>
<line x1="543.8" y1="412.1" x2="550.5" y2="412.1" stroke="#000" stroke-width="1.4"/>
<text x="537.6" y="415.8" font-size="10.7" font-weight="bold" text-anchor="end" >0.4</text>
<line x1="543.8" y1="376.9" x2="550.5" y2="376.9" stroke="#000" stroke-width="1.4"/>
<text x="537.6" y="380.59999999999997" font-size="10.7" font-weight="bold" text-anchor="end" >0.6</text>
<line x1="543.8" y1="341.7" x2="550.5" y2="341.7" stroke="#000" stroke-width="1.4"/>
<text x="537.6" y="345.4" font-size="10.7" font-weight="bold" text-anchor="end" >0.8</text>
<line x1="543.8" y1="306.5" x2="550.5" y2="306.5" stroke="#000" stroke-width="1.4"/>
<text x="537.6" y="310.2" font-size="10.7" font-weight="bold" text-anchor="end" >1.0</text>
<rect x="564.75" y="445.95" width="23.80" height="36.55" fill="#7678f8" stroke="#000" stroke-width="1.3"/>
<rect x="612.15" y="349.65" width="24.10" height="132.85" fill="#fd7b76" stroke="#000" stroke-width="1.3"/>
<line x1="624.3" y1="333.7" x2="624.3" y2="349.0" stroke="#000" stroke-width="1.3"/>
<line x1="617.2" y1="333.7" x2="631.3" y2="333.7" stroke="#000" stroke-width="1.3"/>
<line x1="576.8" y1="441.0" x2="576.8" y2="445.3" stroke="#000" stroke-width="1.3"/>
<line x1="572.0" y1="441.0" x2="582.0" y2="441.0" stroke="#000" stroke-width="1.3"/>
<circle cx="614.7" cy="326.4" r="3.2" fill="#000"/>
<circle cx="624.3" cy="323.4" r="3.2" fill="#000"/>
<circle cx="634.2" cy="326.7" r="3.2" fill="#000"/>
<circle cx="624.3" cy="370.0" r="3.2" fill="#000"/>
<circle cx="624.1" cy="395.7" r="3.2" fill="#000"/>
<circle cx="570.2" cy="434.1" r="3.2" fill="#000"/>
<circle cx="570.2" cy="443.2" r="3.2" fill="#000"/>
<circle cx="583.2" cy="439.6" r="3.2" fill="#000"/>
<circle cx="583.2" cy="448.6" r="3.2" fill="#000"/>
<circle cx="576.8" cy="456.8" r="3.2" fill="#000"/>
<line x1="576.8" y1="482.5" x2="576.8" y2="489.5" stroke="#000" stroke-width="1.5"/>
<line x1="624.0" y1="482.5" x2="624.0" y2="489.5" stroke="#000" stroke-width="1.5"/>
<text x="576.7" y="502.8" font-size="10.7" font-weight="bold" text-anchor="middle" >D614</text>
<text x="624.1" y="502.8" font-size="10.7" font-weight="bold" text-anchor="middle" >G614</text>
<text x="575.9" y="294.4" font-size="10.7"><tspan font-style="italic">p</tspan> = 0.0002</text>
<path d="M576.5,309.9 V303.6 H624.5 V309.9" fill="none" stroke="#555" stroke-width="1.1"/>
<text x="0" y="0" font-size="10.7" font-weight="bold" transform="translate(514.6,422.6) rotate(-90)">Ratio S1/S2</text>
</svg>
</body></html>
